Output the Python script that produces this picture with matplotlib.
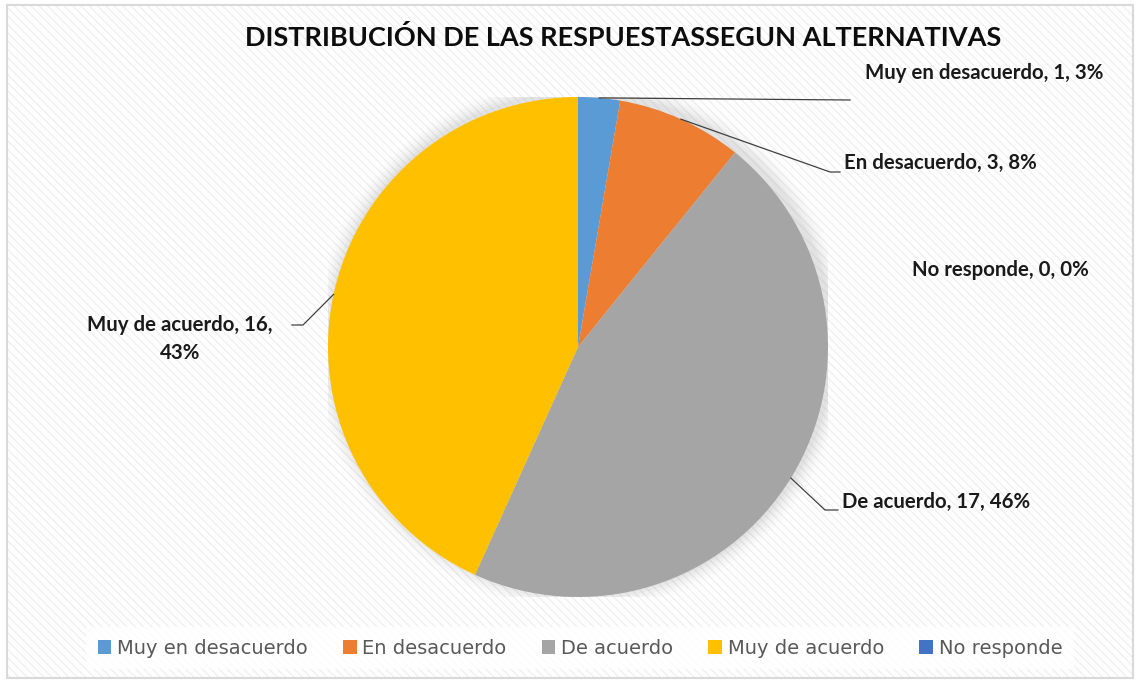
import numpy as np
import matplotlib
matplotlib.use("Agg")
import matplotlib.pyplot as plt
from matplotlib.patches import Rectangle, Circle

categories = ["Muy en desacuerdo", "En desacuerdo", "De acuerdo", "Muy de acuerdo", "No responde"]
values = [1, 3, 17, 16, 0]
percents = ["3%", "8%", "46%", "43%", "0%"]
colors = ["#5B9BD5", "#ED7D31", "#A5A5A5", "#FFC000", "#4472C4"]
title = "DISTRIBUCIÓN DE LAS RESPUESTASSEGUN ALTERNATIVAS"

W, H = 1139, 684
fig = plt.figure(figsize=(W / 100, H / 100), dpi=100)
fig.patch.set_facecolor("white")

# background axes with subtle diagonal stripes and light frame
plt.rcParams['hatch.linewidth'] = 1.0
bax = fig.add_axes([0, 0, 1, 1], zorder=-5)
bax.set_xlim(0, W)
bax.set_ylim(H, 0)
bax.axis("off")
bax.add_patch(Rectangle((7, 5), 1133 - 7, 678 - 5, facecolor="white", edgecolor="#F0F0F0",
                        hatch="\\\\\\\\", linewidth=0))
bax.add_patch(Rectangle((7, 5), 1133 - 7, 678 - 5, facecolor="none", edgecolor="#D9D9D9", linewidth=1.5))

cx, cy, R = 578, 347, 250
ax = fig.add_axes([(cx - R) / W, (H - cy - R) / H, 2 * R / W, 2 * R / H], zorder=1)
ax.axis("off")

# soft shadow
for i, a in enumerate(np.linspace(0.06, 0.01, 6)):
    ax.add_patch(Circle((0.012, 0.012), 1.0 + 0.012 * (i + 1), color="#808080", alpha=a, lw=0, zorder=0))

wedges, _ = ax.pie(values, colors=colors, startangle=90, counterclock=False, radius=1,
                   wedgeprops=dict(linewidth=0), normalize=True)
ax.set_aspect("auto")
ax.set_xlim(-1, 1)
ax.set_ylim(-1, 1)

def px(x, y):
    return ((x - cx) / R, (cy - y) / R)

label_font = dict(family="Lato", fontweight="bold", fontsize=14.7, color="#1a1a1a")

placements = {
    0: dict(text=(865, 73), elbow=[(850, 100)], ha="left"),
    1: dict(text=(844, 163), elbow=[(830, 172), (840, 172)], ha="left"),
    2: dict(text=(842, 502), elbow=[(825, 510), (838, 510)], ha="left"),
    3: dict(text=(180, 339), elbow=[(303, 325), (292, 325)], ha="center"),
    4: dict(text=(912, 270), elbow=None, ha="left"),
}

total = sum(values)
start = 90.0
for i, v in enumerate(values):
    sweep = 360.0 * v / total
    mid = np.deg2rad(start - sweep / 2)
    start -= sweep
    p = placements[i]
    if i == 3:
        txt = f"{categories[i]}, {v},\n{percents[i]}"
    else:
        txt = f"{categories[i]}, {v}, {percents[i]}"
    tx, ty = px(*p["text"])
    ax.text(tx, ty, txt, ha=p["ha"], va="center", linespacing=1.5, clip_on=False, **label_font)
    if p["elbow"]:
        xs = [np.cos(mid)] + [px(*e)[0] for e in p["elbow"]]
        ys = [np.sin(mid)] + [px(*e)[1] for e in p["elbow"]]
        ax.plot(xs, ys, color="#404040", lw=0.9, clip_on=False, zorder=5)

fig.text(623 / W, 1 - 38 / H, title, ha="center", va="center", family="Lato",
         fontweight="bold", fontsize=19.5, color="#0d0d0d")

leg = fig.legend(wedges, categories, loc="center", bbox_to_anchor=(580 / W, 1 - 648 / H),
                 ncol=5, frameon=True, handlelength=0.7, handleheight=0.7,
                 handletextpad=0.3, columnspacing=1.8, borderpad=0.6,
                 prop=dict(family="DejaVu Sans", size=14))
leg.get_frame().set_facecolor("white")
leg.get_frame().set_edgecolor("none")
for t in leg.get_texts():
    t.set_color("#595959")

fig.savefig("out.png", dpi=100)
